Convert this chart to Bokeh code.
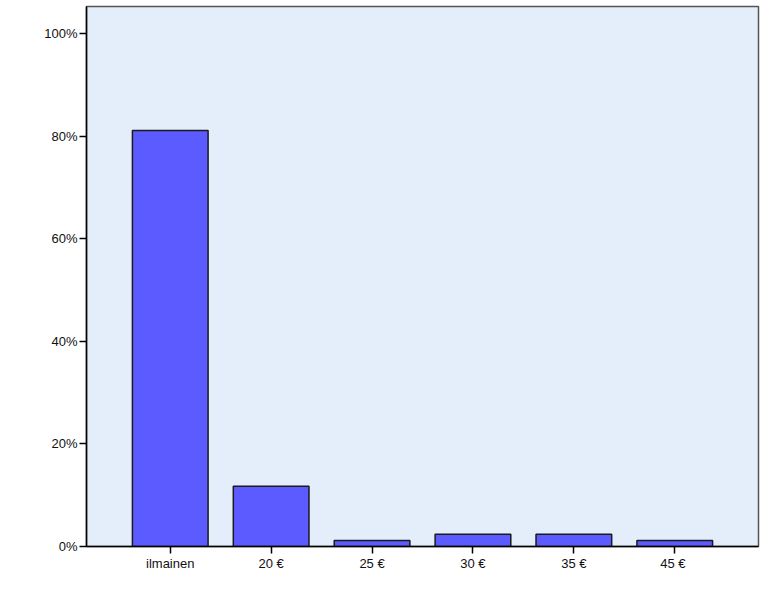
from bokeh.plotting import figure
from bokeh.models import Range1d, FixedTicker
from bokeh.embed import file_html
from bokeh.resources import INLINE

categories = ["ilmainen", "20 €", "25 €", "30 €", "35 €", "45  €"]
percent = [81.1, 11.75, 1.17, 2.4, 2.4, 1.17]
y_ticks = [0, 20, 40, 60, 80, 100]

xs = list(range(len(categories)))

p = figure(width=762, height=600, output_backend="svg", toolbar_location=None,
           x_range=Range1d(-0.83, len(categories) - 1 + 0.83),
           y_range=Range1d(0, 105.26),
           min_border_left=86, min_border_right=4, min_border_top=6, min_border_bottom=54)

p.vbar(x=xs, top=percent, bottom=0, width=0.75, fill_color="#5B5BFF",
       line_color="#1a1a1a", line_width=1.5)

p.background_fill_color = "#E3EEFA"
p.border_fill_color = "white"
p.outline_line_color = "#555555"
p.outline_line_width = 1.5
p.grid.visible = False

p.xaxis.ticker = FixedTicker(ticks=xs)
p.xaxis.major_label_overrides = {i: c for i, c in enumerate(categories)}
p.yaxis.ticker = FixedTicker(ticks=y_ticks)
p.yaxis.major_label_overrides = {t: f"{t}%" for t in y_ticks}

for ax in (p.xaxis[0], p.yaxis[0]):
    ax.axis_line_color = "black"
    ax.axis_line_width = 1.5
    ax.major_tick_line_color = "black"
    ax.major_tick_line_width = 1.5
    ax.major_tick_out = 7
    ax.major_tick_in = 0
    ax.minor_tick_line_color = None
    ax.major_label_text_font = "Liberation Sans"
    ax.major_label_text_font_size = "13px"
    ax.major_label_text_color = "#111111"
    ax.major_label_standoff = 2

open("out.html", "w").write(file_html(p, INLINE))
